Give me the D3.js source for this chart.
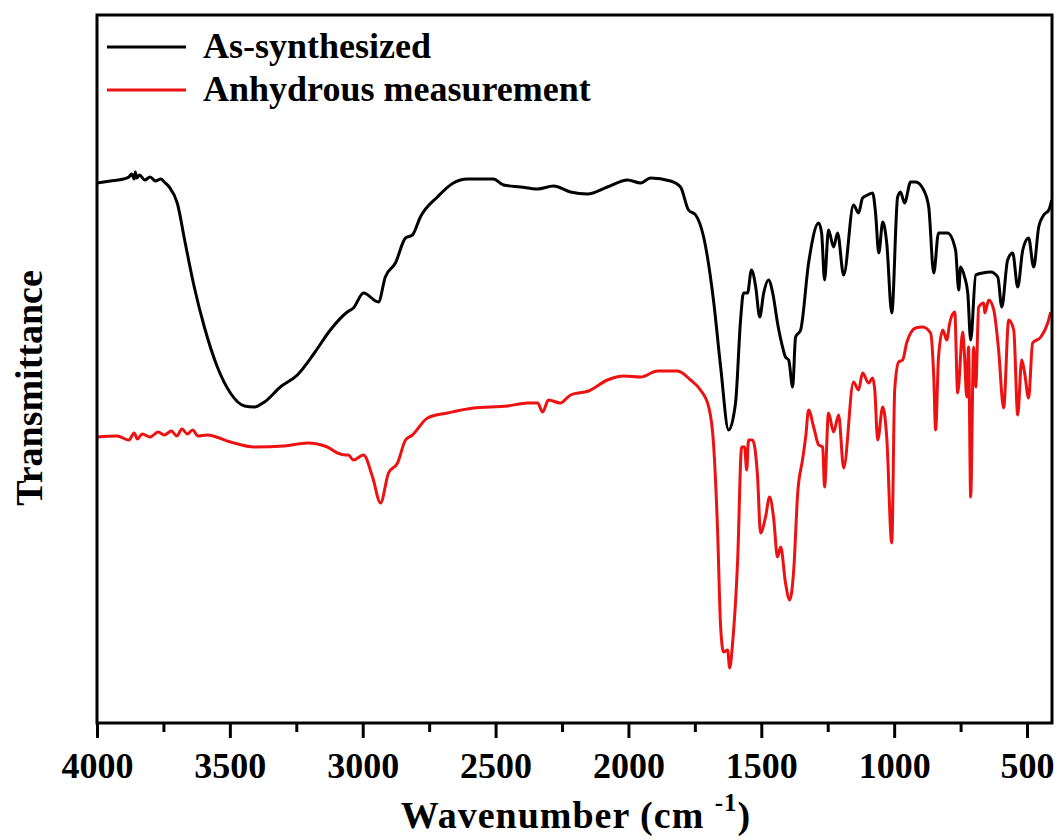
<!DOCTYPE html>
<html>
<head>
<meta charset="utf-8">
<script src="https://cdn.jsdelivr.net/npm/d3@7"></script>
<style>
  html, body { margin: 0; padding: 0; background: #fff; }
  svg { display: block; }
  text { font-family: "Liberation Serif", "Times New Roman", serif; font-weight: bold; fill: #000; }
</style>
</head>
<body>
<svg id="chart" width="1061" height="840"></svg>
<script>
// ---- Data (transmittance in arbitrary units) ----
const seriesNames = ["As-synthesized", "Anhydrous measurement"];
const seriesColors = ["#000000", "#ee1111"];

const asSynWn = [4000, 3950, 3900, 3880, 3870, 3860, 3856, 3850, 3840, 3820, 3800, 3780, 3760, 3747, 3728, 3698, 3668, 3634, 3596, 3547, 3498, 3445, 3408, 3370, 3310, 3246, 3182, 3122, 3058, 3035, 2997, 2941, 2915, 2877, 2839, 2813, 2783, 2719, 2659, 2606, 2508, 2470, 2406, 2342, 2282, 2218, 2154, 2079, 2003, 1954, 1917, 1842, 1804, 1774, 1747, 1717, 1680, 1653, 1623, 1597, 1578, 1567, 1552, 1537, 1521, 1506, 1491, 1473, 1457, 1439, 1420, 1409, 1397, 1382, 1371, 1352, 1322, 1284, 1273, 1262, 1247, 1228, 1213, 1190, 1153, 1134, 1119, 1100, 1081, 1070, 1058, 1043, 1028, 1009, 987, 976, 961, 938, 919, 889, 870, 851, 833, 799, 769, 757, 750, 735, 723, 712, 693, 667, 637, 610, 595, 573, 554, 535, 516, 494, 475, 456, 437, 418, 407];
const asSynT = [540, 542, 544, 546, 549, 544, 551, 545, 548, 543, 546, 542, 544, 541, 536, 520, 480, 436, 396, 356, 330, 317, 316, 321, 336, 348, 370, 393, 411, 415, 430, 421, 446, 460, 485, 488, 506, 526, 540, 544, 544, 538, 536, 534, 537, 531, 529, 536, 543, 540, 545, 542, 536, 513, 508, 486, 423, 356, 293, 320, 403, 430, 430, 453, 436, 406, 430, 443, 430, 400, 376, 366, 363, 336, 386, 393, 460, 500, 490, 443, 493, 476, 490, 448, 518, 510, 525, 528, 530, 510, 470, 501, 480, 410, 526, 531, 520, 541, 541, 533, 516, 450, 490, 490, 473, 433, 456, 446, 430, 383, 448, 450, 451, 446, 416, 463, 470, 436, 473, 485, 456, 496, 508, 513, 523];

const anhWn = [4000, 3924, 3880, 3860, 3848, 3830, 3800, 3770, 3747, 3720, 3700, 3680, 3660, 3640, 3620, 3585, 3498, 3408, 3295, 3208, 3133, 3095, 3065, 3054, 3035, 2997, 2963, 2933, 2903, 2869, 2839, 2813, 2756, 2681, 2583, 2455, 2380, 2342, 2323, 2301, 2256, 2218, 2150, 2079, 2018, 1954, 1890, 1815, 1766, 1729, 1698, 1680, 1665, 1653, 1642, 1627, 1619, 1608, 1589, 1574, 1563, 1555, 1548, 1533, 1514, 1503, 1484, 1469, 1454, 1439, 1427, 1409, 1393, 1378, 1363, 1345, 1333, 1322, 1303, 1284, 1269, 1262, 1247, 1228, 1209, 1190, 1153, 1134, 1119, 1096, 1081, 1073, 1062, 1043, 1028, 1009, 998, 983, 968, 953, 919, 893, 863, 851, 844, 833, 817, 802, 791, 772, 761, 742, 735, 727, 720, 712, 701, 693, 682, 663, 659, 644, 625, 607, 588, 569, 550, 535, 520, 509, 494, 479, 448, 422, 411];
const anhT = [286, 287, 283, 290, 284, 289, 286, 291, 288, 292, 287, 294, 289, 293, 287, 288, 281, 276, 277, 280, 276, 270, 268, 268, 263, 268, 246, 220, 250, 260, 283, 288, 305, 310, 315, 317, 320, 320, 311, 323, 320, 328, 332, 343, 347, 346, 352, 352, 343, 333, 316, 280, 196, 96, 71, 73, 55, 80, 163, 276, 276, 253, 283, 283, 246, 190, 206, 226, 206, 166, 176, 140, 123, 153, 230, 263, 286, 313, 296, 278, 276, 236, 310, 291, 308, 255, 341, 333, 350, 340, 345, 333, 283, 316, 286, 180, 333, 361, 363, 380, 395, 396, 390, 346, 293, 366, 393, 383, 400, 411, 330, 391, 366, 326, 376, 226, 376, 336, 416, 420, 410, 423, 413, 373, 315, 403, 393, 308, 363, 350, 325, 380, 386, 400, 411];

const xMajorTicks = [4000, 3500, 3000, 2500, 2000, 1500, 1000, 500];
const xMinorTicks = [3750, 3250, 2750, 2250, 1750, 1250, 750];

// ---- Layout ----
const svg = d3.select("#chart");
const plotL = 97, plotR = 1052, plotT = 15, plotB = 723;

const x = d3.scaleLinear().domain([4000, 406]).range([plotL, plotR]);
const y = d3.scaleLinear().domain([0, 708]).range([plotB, plotT]);

const series = [
  { name: seriesNames[0], color: seriesColors[0], pts: asSynWn.map((w, i) => [w, asSynT[i]]) },
  { name: seriesNames[1], color: seriesColors[1], pts: anhWn.map((w, i) => [w, anhT[i]]) }
];

const line = d3.line()
  .x(d => x(d[0]))
  .y(d => y(d[1]))
  .curve(d3.curveMonotoneX);

svg.append("defs").append("clipPath").attr("id", "clip")
  .append("rect").attr("x", plotL).attr("y", plotT).attr("width", plotR - plotL).attr("height", plotB - plotT);

const g = svg.append("g").attr("clip-path", "url(#clip)");
series.forEach(s => {
  g.append("path")
    .datum(s.pts)
    .attr("fill", "none")
    .attr("stroke", s.color)
    .attr("stroke-width", 3)
    .attr("stroke-linejoin", "round")
    .attr("d", line);
});

// Frame
svg.append("rect")
  .attr("x", plotL).attr("y", plotT)
  .attr("width", plotR - plotL).attr("height", plotB - plotT)
  .attr("fill", "none").attr("stroke", "#000").attr("stroke-width", 3);

// Bottom axis: major ticks with labels
const xAxis = d3.axisBottom(x).tickValues(xMajorTicks).tickSize(15).tickPadding(14).tickFormat(d3.format("d"));
const ax = svg.append("g").attr("transform", `translate(0,${plotB})`).call(xAxis);
ax.select(".domain").remove();
ax.selectAll(".tick line").attr("stroke", "#000").attr("stroke-width", 3);
ax.selectAll(".tick text")
  .attr("font-family", '"Liberation Serif", "Times New Roman", serif')
  .attr("font-weight", "bold")
  .attr("font-size", 36)
  .attr("fill", "#000");

// Minor ticks
const xMinor = d3.axisBottom(x).tickValues(xMinorTicks).tickSize(9).tickFormat("");
const axm = svg.append("g").attr("transform", `translate(0,${plotB})`).call(xMinor);
axm.select(".domain").remove();
axm.selectAll(".tick line").attr("stroke", "#000").attr("stroke-width", 3);

// Axis titles
const xt = svg.append("text")
  .attr("x", 576).attr("y", 828)
  .attr("text-anchor", "middle")
  .attr("font-size", 38)
  .attr("letter-spacing", 1);
xt.append("tspan").text("Wavenumber (cm ");
xt.append("tspan").attr("font-size", 25).attr("dy", -17).text("-1");
xt.append("tspan").attr("dy", 17).text(")");

svg.append("text")
  .attr("transform", "translate(42,388) rotate(-90)")
  .attr("text-anchor", "middle")
  .attr("font-size", 38)
  .text("Transmittance");

// Legend
const legendY = [47, 90];
series.forEach((s, i) => {
  svg.append("line")
    .attr("x1", 107).attr("x2", 186)
    .attr("y1", legendY[i]).attr("y2", legendY[i])
    .attr("stroke", s.color).attr("stroke-width", 3);
  svg.append("text")
    .attr("x", 203).attr("y", legendY[i] + 11)
    .attr("font-size", 36)
    .text(s.name);
});
</script>
</body>
</html>
